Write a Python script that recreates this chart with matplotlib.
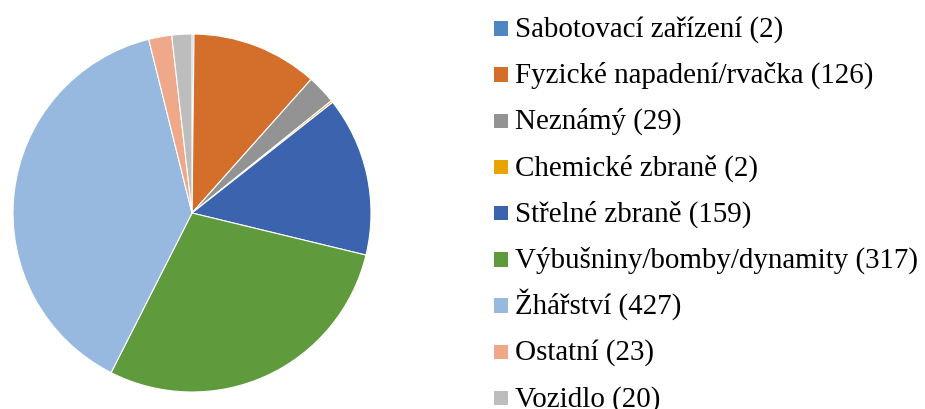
import matplotlib.pyplot as plt
from matplotlib.patches import Rectangle

plt.rcParams['font.family'] = ['Liberation Serif', 'DejaVu Serif']

kategorie = ['Sabotovací zařízení', 'Fyzické napadení/rvačka', 'Neznámý',
             'Chemické zbraně', 'Střelné zbraně', 'Výbušniny/bomby/dynamity',
             'Žhářství', 'Ostatní', 'Vozidlo']
pocty = [2, 126, 29, 2, 159, 317, 427, 23, 20]
barvy = ['#4e86c0', '#d46f2b', '#939393', '#e8a400', '#3c63ae',
         '#5f9b3d', '#97b9e0', '#f0a88a', '#bdbdbd']

W, H = 925, 409
fig = plt.figure(figsize=(W/100, H/100), dpi=100)

# kolac
ax = fig.add_axes([13/W, 17/H, 358/W, 358/H])
ax.pie(pocty, colors=barvy, startangle=90, counterclock=False, radius=1,
       wedgeprops={'edgecolor': 'white', 'linewidth': 0.8})
ax.set_xlim(-1, 1)
ax.set_ylim(-1, 1)
ax.set_aspect('equal')

# legenda - rucne, at jsou radky stejne od sebe
krok = 46.2
for i, (k, p, c) in enumerate(zip(kategorie, pocty, barvy)):
    yc = 28.7 + i * krok
    fig.patches.append(Rectangle((494/W, 1 - (yc + 7)/H), 14.5/W, 14.5/H,
                                 transform=fig.transFigure, facecolor=c,
                                 edgecolor='none'))
    fig.text(515/W, 1 - (yc + 8)/H, f'{k} ({p})', fontsize=20.9,
             va='baseline', ha='left')

fig.savefig('out.png', dpi=100)
